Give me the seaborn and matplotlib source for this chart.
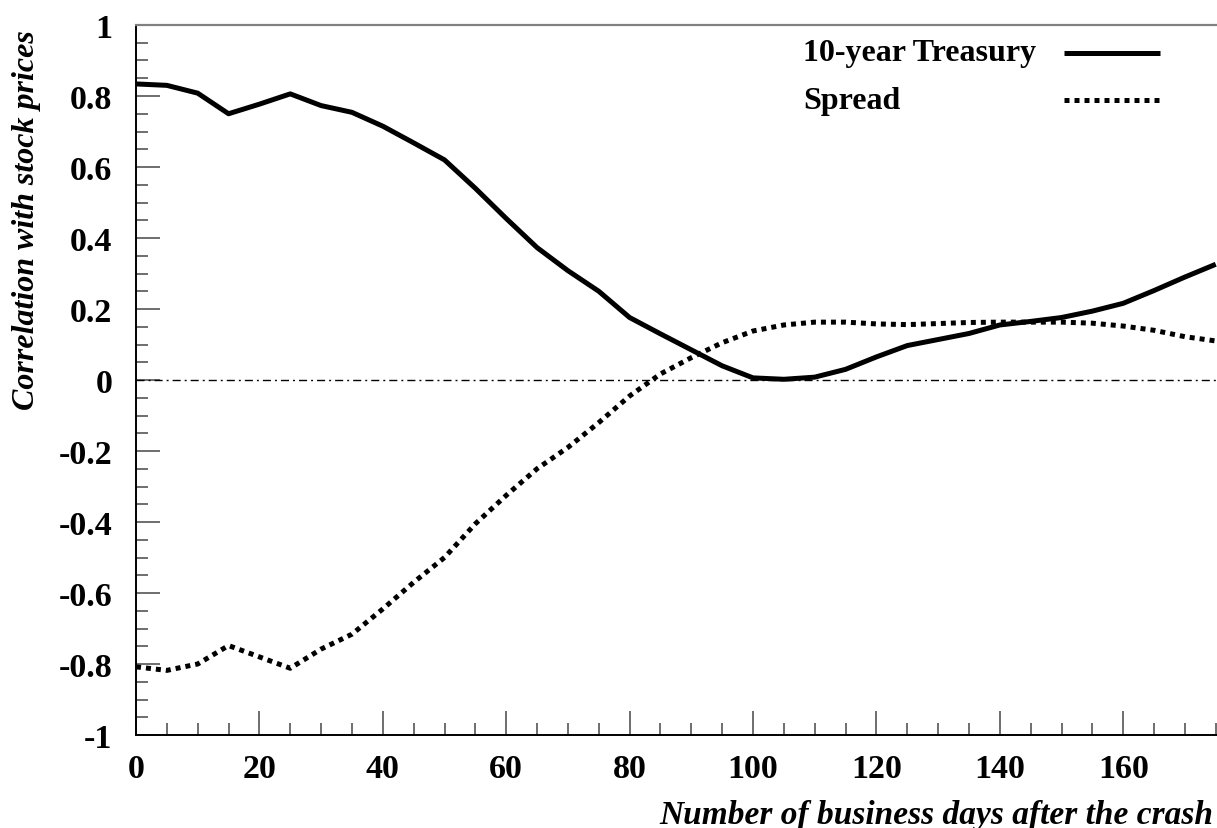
import matplotlib
matplotlib.use("Agg")
import matplotlib.pyplot as plt
from matplotlib.lines import Line2D
from matplotlib.ticker import MultipleLocator
import seaborn as sns
import pandas as pd

# ---- data ----
days = [0, 5, 10, 15, 20, 25, 30, 35, 40, 45, 50, 55, 60, 65, 70, 75, 80, 85,
        90, 95, 100, 105, 110, 115, 120, 125, 130, 135, 140, 145, 150, 155, 160,
        165, 170, 175]
treasury = [0.834, 0.830, 0.808, 0.750, 0.777, 0.806, 0.773, 0.754, 0.715, 0.668,
            0.620, 0.540, 0.455, 0.373, 0.308, 0.250, 0.176, 0.130, 0.085, 0.040,
            0.006, 0.002, 0.008, 0.030, 0.065, 0.097, 0.114, 0.131, 0.155, 0.165,
            0.176, 0.194, 0.216, 0.252, 0.290, 0.326]
spread = [-0.808, -0.818, -0.800, -0.748, -0.780, -0.812, -0.758, -0.716, -0.645,
          -0.570, -0.500, -0.405, -0.325, -0.250, -0.190, -0.120, -0.045, 0.017,
          0.063, 0.105, 0.138, 0.155, 0.163, 0.163, 0.158, 0.156, 0.159, 0.162,
          0.163, 0.163, 0.163, 0.160, 0.152, 0.140, 0.122, 0.110]
series_names = ["10-year Treasury", "Spread"]
xtick_values = [0, 20, 40, 60, 80, 100, 120, 140, 160]
ytick_values = [-1, -0.8, -0.6, -0.4, -0.2, 0, 0.2, 0.4, 0.6, 0.8, 1]
ytick_labels = ["-1", "-0.8", "-0.6", "-0.4", "-0.2", "0", "0.2", "0.4", "0.6", "0.8", "1"]
xlabel = "Number of business days after the crash"
ylabel = "Correlation with stock prices"

sns.set_theme(style="white")
plt.rcParams["font.family"] = ["Liberation Serif", "DejaVu Serif"]
plt.rcParams["font.weight"] = "bold"
plt.rcParams["text.color"] = "black"
plt.rcParams["axes.labelcolor"] = "black"

W, H = 1217, 829
fig = plt.figure(figsize=(W / 100, H / 100), dpi=100)
ax = fig.add_axes([136 / W, 93 / H, (W - 136) / W, 710 / H])

df_t = pd.DataFrame({"day": days, "corr": treasury})
df_s = pd.DataFrame({"day": days, "corr": spread})

LW = 3.6
sns.lineplot(data=df_t, x="day", y="corr", ax=ax, color="black", linewidth=LW,
             linestyle="-", solid_capstyle="butt")
sns.lineplot(data=df_s, x="day", y="corr", ax=ax, color="black", linewidth=LW,
             linestyle=(0, (1, 1)), dash_capstyle="butt")

ax.axhline(0, color="black", linewidth=1.0, linestyle=(0, (5.8, 2.9, 1.4, 2.9)), zorder=1)

ax.set_xlim(0, (W - 136) / 6.17)
ax.set_ylim(-1, 1)
ax.set_xticks(xtick_values)
ax.set_xticklabels([str(v) for v in xtick_values])
ax.xaxis.set_minor_locator(MultipleLocator(5))
ax.set_yticks(ytick_values)
ax.set_yticklabels(ytick_labels)
ax.yaxis.set_minor_locator(MultipleLocator(0.05))
ax.set_xlabel("")
ax.set_ylabel("")

ax.tick_params(axis="both", which="both", direction="in", colors="#555555",
               labelcolor="black", labelsize=24.5, bottom=True, left=True,
               top=False, right=False)
ax.tick_params(axis="both", which="major", length=17, width=1.2)
ax.tick_params(axis="both", which="minor", length=8.5, width=1.2)
ax.tick_params(axis="y", which="major", pad=17)
ax.tick_params(axis="x", which="major", pad=13)
for lab in ax.get_xticklabels() + ax.get_yticklabels():
    lab.set_fontweight("bold")
    lab.set_color("black")

ax.spines["right"].set_visible(False)
ax.spines["top"].set_color("#808080")
ax.spines["top"].set_linewidth(1.6)
ax.spines["left"].set_color("black")
ax.spines["left"].set_linewidth(1.4)
ax.spines["bottom"].set_color("black")
ax.spines["bottom"].set_linewidth(1.4)

fig.text(27 / W, 1 - 30 / H, ylabel, rotation=90, ha="center", va="top",
         fontsize=23, style="italic", weight="bold", color="black")
fig.text(1213 / W, 5 / H, xlabel, ha="right", va="baseline",
         fontsize=24, style="italic", weight="bold", color="black")

# legend
leg_y = [54, 101]
styles = ["-", (0, (1, 1))]
for name, yy, ls in zip(series_names, leg_y, styles):
    fig.text(803 / W, 1 - yy / H, name, ha="left", va="center", fontsize=23,
             weight="bold", color="black")
    fig.add_artist(Line2D([1064 / W, 1160 / W], [1 - yy / H, 1 - yy / H],
                          transform=fig.transFigure, color="black", linewidth=LW,
                          linestyle=ls, dash_capstyle="butt", solid_capstyle="butt"))

fig.savefig("out.png", dpi=100)
